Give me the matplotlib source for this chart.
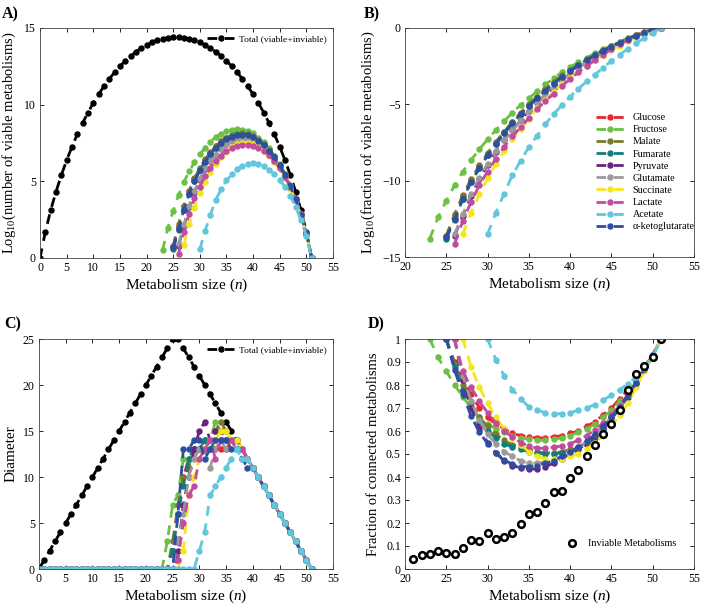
import numpy as np
import matplotlib
matplotlib.use('Agg')
import matplotlib.pyplot as plt

plt.rcParams['font.family'] = ['Liberation Serif', 'DejaVu Serif']
plt.rcParams['mathtext.fontset'] = 'custom'
plt.rcParams['mathtext.rm'] = 'Liberation Serif'
plt.rcParams['mathtext.it'] = 'Liberation Serif:italic'

# ---- data ----
sources = ['Glucose', 'Fructose', 'Malate', 'Fumarate', 'Pyruvate',
           'Glutamate', 'Succinate', 'Lactate', 'Acetate', 'α-ketoglutarate']
colors = ['#e8262c', '#6cc144', '#7a7a2e', '#0f7f7c', '#6a2282',
          '#9a9a9a', '#f5e61c', '#c24a9f', '#62c6dc', '#2e4ea0']
starts = [25, 23, 25, 25, 26, 26, 27, 26, 30, 25]

# log10 of total number of metabolisms, n = 0..51
total_log = [0, 1.708, 3.105, 4.319, 5.398, 6.371, 7.256, 8.064, 8.804, 9.483,
             10.106, 10.678, 11.201, 11.678, 12.111, 12.504, 12.856, 13.169,
             13.446, 13.685, 13.889, 14.059, 14.193, 14.294, 14.361, 14.394,
             14.394, 14.361, 14.294, 14.193, 14.059, 13.889, 13.685, 13.446,
             13.169, 12.856, 12.504, 12.111, 11.678, 11.201, 10.678, 10.106,
             9.483, 8.804, 8.064, 7.256, 6.371, 5.398, 4.319, 3.105, 1.708, 0]

# log10 fraction of viable metabolisms, from start n to 51
frac_glucose = [-13.65, -12.3, -11.0, -9.95, -9.05, -8.25, -7.5, -6.82, -6.17, -5.57,
                -5.02, -4.5, -4.0, -3.55, -3.12, -2.74, -2.38, -2.04, -1.72, -1.43,
                -1.17, -0.92, -0.68, -0.46, -0.26, -0.08, 0]
frac_fructose = [-13.8, -12.4, -11.3, -10.3, -9.4, -8.65, -7.95, -7.3, -6.7, -6.1,
                 -5.55, -5.05, -4.6, -4.15, -3.7, -3.3, -2.9, -2.55, -2.25, -1.95,
                 -1.65, -1.4, -1.15, -0.9, -0.65, -0.45, -0.25, -0.08, 0]
frac_malate = [-13.6, -12.2, -10.95, -9.9, -9.0, -8.2, -7.45, -6.8, -6.15, -5.55,
               -5.0, -4.5, -4.0, -3.55, -3.1, -2.75, -2.4, -2.05, -1.75, -1.45,
               -1.2, -0.95, -0.7, -0.48, -0.28, -0.1, 0]
frac_fumarate = [-13.8, -12.6, -11.2, -10.1, -9.15, -8.35, -7.6, -6.9, -6.25, -5.65,
                 -5.1, -4.6, -4.1, -3.65, -3.2, -2.82, -2.45, -2.1, -1.8, -1.5,
                 -1.22, -0.96, -0.72, -0.5, -0.3, -0.1, 0]
frac_pyruvate = [-13.6, -12.3, -11.0, -9.9, -8.95, -8.1, -7.35, -6.7, -6.05, -5.45,
                 -4.9, -4.4, -3.9, -3.45, -3.0, -2.6, -2.25, -1.9, -1.6, -1.3,
                 -1.02, -0.76, -0.52, -0.3, -0.1, 0]
frac_glutamate = [-13.5, -12.2, -10.9, -9.8, -8.9, -8.05, -7.35, -6.7, -6.05, -5.45,
                  -4.9, -4.4, -3.9, -3.45, -3.0, -2.6, -2.22, -1.88, -1.57, -1.28,
                  -1.0, -0.74, -0.5, -0.3, -0.1, 0]
frac_succinate = [-13.5, -12.1, -10.9, -9.85, -8.9, -8.05, -7.3, -6.6, -5.95, -5.25,
                  -4.7, -4.18, -3.7, -3.25, -2.85, -2.48, -2.12, -1.78, -1.46, -1.16,
                  -0.88, -0.62, -0.38, -0.15, 0]
frac_lactate = [-14.15, -12.65, -11.4, -10.3, -9.4, -8.55, -7.8, -7.1, -6.5, -5.9,
                -5.3, -4.8, -4.3, -3.8, -3.35, -2.9, -2.5, -2.1, -1.75, -1.4,
                -1.08, -0.8, -0.55, -0.32, -0.12, 0]
frac_acetate = [-13.5, -12.1, -10.85, -9.65, -8.7, -7.8, -7.05, -6.3, -5.65, -5.05,
                -4.5, -3.98, -3.5, -3.05, -2.6, -2.15, -1.75, -1.35, -1.0, -0.65,
                -0.3, 0]
frac_aketo = [-13.7, -12.5, -11.2, -10.1, -9.2, -8.35, -7.6, -6.9, -6.25, -5.65,
              -5.1, -4.6, -4.1, -3.65, -3.2, -2.8, -2.45, -2.1, -1.8, -1.5,
              -1.22, -0.96, -0.72, -0.5, -0.3, -0.1, 0]
frac_all = [frac_glucose, frac_fructose, frac_malate, frac_fumarate, frac_pyruvate,
            frac_glutamate, frac_succinate, frac_lactate, frac_acetate, frac_aketo]

# diameter, from start n to 51 (zero below start)
total_diam = [0, 1, 2, 3, 4, 5, 6, 7, 8, 9, 10, 11, 12, 13, 14, 15, 16, 17, 18, 19,
              20, 21, 22, 23, 24, 25, 25, 24, 23, 22, 21, 20, 19, 18, 17, 16, 15, 14,
              13, 12, 11, 10, 9, 8, 7, 6, 5, 4, 3, 2, 1, 0]
diam_glucose = [2, 6, 10, 12, 13, 13, 13, 14, 13, 13, 13, 14, 14, 13,
                12, 11, 10, 9, 8, 7, 6, 5, 4, 3, 2, 1, 0]
diam_fructose = [0, 3, 7, 8, 12, 12, 13, 13, 14, 14, 16, 15, 15, 14, 14, 13,
                 12, 11, 10, 9, 8, 7, 6, 5, 4, 3, 2, 1, 0]
diam_malate = [3, 7, 10, 11, 13, 13, 14, 14, 15, 16, 15, 14, 14, 13,
               12, 11, 10, 9, 8, 7, 6, 5, 4, 3, 2, 1, 0]
diam_fumarate = [2, 6, 9, 12, 13, 13, 14, 13, 14, 14, 14, 14, 13, 13,
                 12, 11, 10, 9, 8, 7, 6, 5, 4, 3, 2, 1, 0]
diam_pyruvate = [2, 7, 10, 13, 15, 16, 14, 15, 15, 14, 14, 13, 13,
                 12, 11, 10, 9, 8, 7, 6, 5, 4, 3, 2, 1, 0]
diam_glutamate = [3, 6, 10, 12, 13, 13, 11, 13, 14, 13, 14, 13, 13,
                  12, 11, 10, 9, 8, 7, 6, 5, 4, 3, 2, 1, 0]
diam_succinate = [2, 8, 10, 12, 13, 14, 14, 15, 15, 14, 14, 13,
                  12, 11, 10, 9, 8, 7, 6, 5, 4, 3, 2, 1, 0]
diam_lactate = [1, 5, 8, 9, 12, 13, 14, 12, 14, 14, 14, 13, 13,
                12, 11, 10, 9, 8, 7, 6, 5, 4, 3, 2, 1, 0]
diam_acetate = [2, 4, 8, 9, 10, 11, 12, 13, 12,
                12, 11, 10, 9, 8, 7, 6, 5, 4, 3, 2, 1, 0]
diam_aketo = [0, 6, 13, 13, 14, 14, 12, 13, 14, 14, 14, 13, 13, 12,
              11, 11, 10, 9, 8, 7, 6, 5, 4, 3, 2, 1, 0]
diam_all = [diam_glucose, diam_fructose, diam_malate, diam_fumarate, diam_pyruvate,
            diam_glutamate, diam_succinate, diam_lactate, diam_acetate, diam_aketo]

# fraction of connected metabolisms, from start n to 51
conn_glucose = [1.0, 0.9, 0.82, 0.76, 0.7, 0.66, 0.63, 0.61, 0.59, 0.58, 0.575, 0.57,
                0.57, 0.575, 0.58, 0.59, 0.6, 0.62, 0.64, 0.67, 0.7, 0.74, 0.78,
                0.83, 0.88, 0.93, 1.0]
conn_fructose = [1.0, 0.92, 0.86, 0.8, 0.75, 0.7, 0.66, 0.63, 0.61, 0.595, 0.58, 0.57,
                 0.565, 0.56, 0.56, 0.565, 0.57, 0.58, 0.595, 0.61, 0.63, 0.66, 0.69,
                 0.73, 0.77, 0.82, 0.87, 0.92, 1.0]
conn_malate = [1.0, 0.89, 0.8, 0.72, 0.66, 0.62, 0.585, 0.56, 0.54, 0.53, 0.52, 0.51,
               0.505, 0.505, 0.51, 0.52, 0.53, 0.55, 0.58, 0.62, 0.66, 0.7, 0.75,
               0.81, 0.87, 0.93, 1.0]
conn_fumarate = [1.0, 0.88, 0.78, 0.7, 0.64, 0.6, 0.57, 0.545, 0.53, 0.52, 0.51, 0.505,
                 0.5, 0.5, 0.505, 0.51, 0.52, 0.54, 0.57, 0.61, 0.65, 0.7, 0.75,
                 0.81, 0.87, 0.93, 1.0]
conn_pyruvate = [1.0, 0.82, 0.7, 0.615, 0.55, 0.505, 0.47, 0.45, 0.44, 0.435, 0.435,
                 0.445, 0.46, 0.48, 0.5, 0.52, 0.545, 0.58, 0.615, 0.655, 0.7, 0.75,
                 0.81, 0.87, 0.93, 1.0]
conn_glutamate = [1.0, 0.84, 0.73, 0.65, 0.585, 0.545, 0.51, 0.49, 0.47, 0.46, 0.46,
                  0.465, 0.475, 0.49, 0.51, 0.53, 0.555, 0.585, 0.62, 0.66, 0.705,
                  0.755, 0.81, 0.87, 0.93, 1.0]
conn_succinate = [1.0, 0.88, 0.79, 0.72, 0.66, 0.61, 0.57, 0.54, 0.51, 0.49, 0.48,
                  0.48, 0.48, 0.49, 0.5, 0.52, 0.55, 0.58, 0.62, 0.67, 0.72, 0.79,
                  0.86, 0.93, 1.0]
conn_lactate = [1.0, 0.86, 0.79, 0.73, 0.68, 0.635, 0.6, 0.575, 0.55, 0.535, 0.525,
                0.525, 0.53, 0.535, 0.545, 0.56, 0.58, 0.605, 0.635, 0.67, 0.71,
                0.76, 0.81, 0.87, 0.93, 1.0]
conn_acetate = [1.0, 0.91, 0.84, 0.78, 0.74, 0.705, 0.69, 0.68, 0.675, 0.675, 0.68,
                0.69, 0.7, 0.715, 0.735, 0.755, 0.78, 0.805, 0.835, 0.875, 0.925, 1.0]
conn_aketo = [1.0, 0.865, 0.76, 0.665, 0.595, 0.545, 0.505, 0.475, 0.455, 0.445,
              0.445, 0.45, 0.46, 0.47, 0.49, 0.51, 0.53, 0.555, 0.585, 0.62, 0.66,
              0.705, 0.755, 0.81, 0.87, 0.93, 1.0]
conn_all = [conn_glucose, conn_fructose, conn_malate, conn_fumarate, conn_pyruvate,
            conn_glutamate, conn_succinate, conn_lactate, conn_acetate, conn_aketo]

inviable_n = list(range(21, 52))
inviable_conn = [0.045, 0.063, 0.066, 0.08, 0.07, 0.067, 0.09, 0.125, 0.12, 0.155,
                 0.13, 0.14, 0.158, 0.197, 0.24, 0.25, 0.287, 0.335, 0.338, 0.395,
                 0.43, 0.49, 0.537, 0.588, 0.632, 0.692, 0.778, 0.848, 0.882, 0.922, 1.0]

# ---- plotting ----
n_all = np.arange(52)
total_log = np.array(total_log)
dash = (0, (3.5, 2.8))
lw = 2.0
ms = 3.6
# plot order: acetate on top
order = [0, 1, 2, 3, 4, 5, 6, 7, 9, 8]

fig = plt.figure(figsize=(7.03, 6.09), dpi=100)
W, H = 703.0, 609.0


def add_ax(x0, y0, x1, y1):
    ax = fig.add_axes([x0 / W, 1 - y1 / H, (x1 - x0) / W, (y1 - y0) / H])
    ax.tick_params(direction='in', top=True, right=True, labelsize=8.5,
                   length=3, width=0.6, pad=3)
    for s in ax.spines.values():
        s.set_linewidth(0.6)
        s.set_color('#444444')
    return ax


def styled(ax, x, y, c, label=None):
    return ax.plot(x, y, linestyle=dash, color=c, lw=lw, marker='o', ms=ms,
                   mec=c, mfc=c, label=label)[0]


axA = add_ax(40, 28, 333, 258)
axB = add_ax(405, 28, 694, 257)
axC = add_ax(39, 339, 333, 569)
axD = add_ax(405, 339, 694, 569)

# A
hA = styled(axA, n_all, total_log, 'black', 'Total (viable+inviable)')
for i in order:
    n = np.arange(starts[i], 52)
    styled(axA, n, np.array(frac_all[i]) + total_log[n], colors[i])
axA.set_xlim(0, 55)
axA.set_ylim(0, 15)
axA.set_xticks(range(0, 56, 5))
axA.set_yticks([0, 5, 10, 15])
axA.set_xlabel('Metabolism size ($n$)', fontsize=11, labelpad=2)
axA.set_ylabel('Log$_{10}$(number of viable metabolisms)', fontsize=10.5, labelpad=4)
axA.legend(handles=[hA], loc='upper right', frameon=False, fontsize=6.8,
           numpoints=1, handlelength=2.8, borderaxespad=0.3, handletextpad=0.5)

# B
hB = {}
for i in order:
    n = np.arange(starts[i], 52)
    hB[i] = styled(axB, n, frac_all[i], colors[i], sources[i])
axB.set_xlim(20, 55)
axB.set_ylim(-15, 0)
axB.set_xticks(range(20, 56, 5))
axB.set_yticks([-15, -10, -5, 0])
axB.set_xlabel('Metabolism size ($n$)', fontsize=11, labelpad=2)
axB.set_ylabel('Log$_{10}$(fraction of viable metabolisms)', fontsize=10.5, labelpad=4)
axB.legend(handles=[hB[i] for i in range(10)], loc='center left',
           bbox_to_anchor=(0.63, 0.37), frameon=False, fontsize=7.3, numpoints=1,
           handlelength=2.8, labelspacing=0.3, handletextpad=0.8)

# C
hC = styled(axC, n_all, total_diam, 'black', 'Total (viable+inviable)')
for i in order:
    d = [0] * starts[i] + diam_all[i]
    styled(axC, n_all, d, colors[i])
axC.set_xlim(0, 55)
axC.set_ylim(0, 25)
axC.set_xticks(range(0, 56, 5))
axC.set_yticks(range(0, 26, 5))
axC.set_xlabel('Metabolism size ($n$)', fontsize=11, labelpad=2)
axC.set_ylabel('Diameter', fontsize=11, labelpad=4)
axC.legend(handles=[hC], loc='upper right', frameon=False, fontsize=6.8,
           numpoints=1, handlelength=2.8, borderaxespad=0.3, handletextpad=0.5)

# D
for i in order:
    n = np.arange(starts[i], 52)
    styled(axD, n, conn_all[i], colors[i])
hD = axD.plot(inviable_n, inviable_conn, linestyle='none', marker='o', ms=4.8,
              mfc='white', mec='black', mew=1.8, label='Inviable Metabolisms')[0]
axD.set_xlim(20, 55)
axD.set_ylim(0, 1)
axD.set_xticks(range(20, 56, 5))
axD.set_yticks(np.arange(0, 1.01, 0.1))
axD.set_yticklabels(['0', '0.1', '0.2', '0.3', '0.4', '0.5', '0.6', '0.7',
                     '0.8', '0.9', '1'])
axD.set_xlabel('Metabolism size ($n$)', fontsize=11, labelpad=2)
axD.set_ylabel('Fraction of connected metabolisms', fontsize=10.5, labelpad=4)
axD.legend(handles=[hD], loc='lower right', bbox_to_anchor=(0.97, 0.05),
           frameon=False, fontsize=7.3, numpoints=1, handletextpad=0.6)

for lbl, x, y in [('A)', 2, 14), ('B)', 364, 14), ('C)', 4, 324), ('D)', 368, 324)]:
    fig.text(x / W, 1 - y / H, lbl, fontsize=11.5, fontweight='bold', va='center')

fig.savefig('out.png', dpi=100)
